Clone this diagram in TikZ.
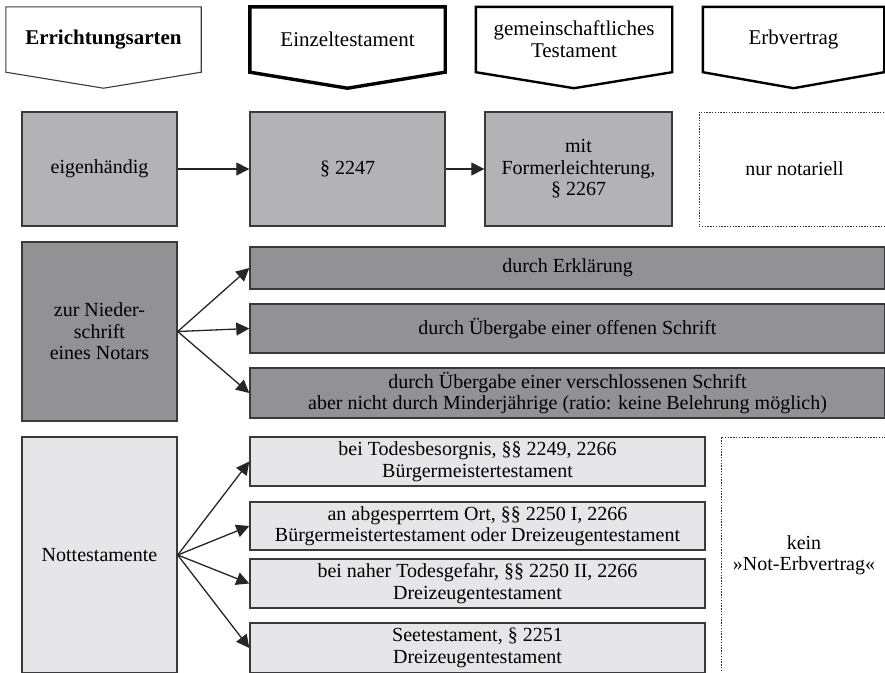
\documentclass[tikz,border=0pt]{standalone}
\usepackage{fontspec}
\setmainfont{Liberation Serif}
\usetikzlibrary{arrows.meta,positioning}
\definecolor{boxline}{HTML}{3A3A3C}
\definecolor{fill-hell}{HTML}{E6E6E8}
\definecolor{fill-mittel}{HTML}{B3B3B6}
\definecolor{fill-dunkel}{HTML}{929295}
\tikzset{
  erb-head/.style={minimum height=65pt, inner sep=0pt, align=center,
    font=\fontsize{21}{22}\selectfont},
  erb-box/.style={draw=boxline, line width=1.4pt, inner sep=0pt, align=center,
    font=\fontsize{20}{21.5}\selectfont},
  erb-dotted/.style={draw=black!80, line width=1pt, dash pattern=on 1.4pt off 1.4pt,
    inner sep=0pt, align=center, font=\fontsize{20}{21.5}\selectfont},
  erb-arrow/.style={-{Triangle[length=13pt,width=13pt]}, line width=1.3pt, draw=black!85}
}

\begin{document}
\begin{tikzpicture}[x=1pt, y=-1pt]
  \useasboundingbox (0,0) rectangle (885,672);
  \clip (0,0) rectangle (885,672);

  % Kopfzeile
  \node[erb-head, minimum width=195pt, font=\fontsize{21}{22}\selectfont\bfseries] (h-art) at (103.5,39.5) {Errichtungsarten};
  \node[erb-head, minimum width=195pt] (h-einzel) at (347.5,39.5) {Einzeltestament};
  \node[erb-head, minimum width=196pt] (h-gem) at (574,39.5) {gemeinschaftliches\\Testament};
  \node[erb-head, minimum width=181pt] (h-erb) at (793.5,39.5) {Erbvertrag};
  \draw[line width=1.1pt, boxline] (h-art.south west) -- (h-art.north west) -- (h-art.north east)
    -- (h-art.south east) -- ([yshift=-16pt]h-art.south) -- cycle;
  \draw[line width=3.4pt] (h-einzel.south west) -- (h-einzel.north west) -- (h-einzel.north east)
    -- (h-einzel.south east) -- ([yshift=-16pt]h-einzel.south) -- cycle;
  \draw[line width=2.4pt] (h-gem.south west) -- (h-gem.north west) -- (h-gem.north east)
    -- (h-gem.south east) -- ([yshift=-16pt]h-gem.south) -- cycle;
  \draw[line width=2.4pt] (h-erb.south west) -- (h-erb.north west) -- (h-erb.north east)
    -- (h-erb.south east) -- ([yshift=-16pt]h-erb.south) -- cycle;

  % eigenhaendig
  \node[erb-box, fill=fill-mittel, minimum width=155pt, minimum height=114pt] (eigen) at (99.5,169) {eigenhändig};
  \node[erb-box, fill=fill-mittel, minimum width=195pt, minimum height=114pt] (p2247) at (347.5,169) {§ 2247};
  \node[erb-box, fill=fill-mittel, minimum width=187pt, minimum height=114pt] (p2267) at (578.5,169) {mit\\Formerleichterung,\\§ 2267};
  \node[erb-dotted, minimum width=191pt, minimum height=114pt] (notariell) at (794.5,169) {nur notariell};
  \draw[erb-arrow] (eigen) -- (p2247);
  \draw[erb-arrow] (p2247) -- (p2267);

  % zur Niederschrift eines Notars
  \node[erb-box, fill=fill-dunkel, minimum width=155pt, minimum height=179pt] (nieder) at (99.5,331.5) {zur Nieder-\\schrift\\eines Notars};
  \node[erb-box, fill=fill-dunkel, minimum width=635pt, minimum height=42pt] (erkl) at (567.5,268) {durch Erklärung};
  \node[erb-box, fill=fill-dunkel, minimum width=635pt, minimum height=49pt] (offen) at (567.5,328.5) {durch Übergabe einer offenen Schrift};
  \node[erb-box, fill=fill-dunkel, minimum width=635pt, minimum height=50pt] (versch) at (567.5,393)
    {durch Übergabe einer verschlossenen Schrift\\aber nicht durch Minderjährige (ratio: keine Belehrung möglich)};
  \foreach \ziel in {erkl,offen,versch}
    \draw[erb-arrow] (nieder.east) -- (\ziel.west);

  % Nottestamente
  \node[erb-box, fill=fill-hell, minimum width=155pt, minimum height=236pt] (not) at (99.5,555) {Nottestamente};
  \node[erb-box, fill=fill-hell, minimum width=455pt, minimum height=49pt] (todes) at (477.5,461.5)
    {bei Todesbesorgnis, §§ 2249, 2266\\Bürgermeistertestament};
  \node[erb-box, fill=fill-hell, minimum width=455pt, minimum height=48pt] (abgesperrt) at (477.5,526)
    {an abgesperrtem Ort, §§ 2250 I, 2266\\Bürgermeistertestament oder Dreizeugentestament};
  \node[erb-box, fill=fill-hell, minimum width=455pt, minimum height=49pt] (gefahr) at (477.5,583.5)
    {bei naher Todesgefahr, §§ 2250 II, 2266\\Dreizeugentestament};
  \node[erb-box, fill=fill-hell, minimum width=455pt, minimum height=50pt] (see) at (477.5,648)
    {Seetestament, § 2251\\Dreizeugentestament};
  \node[erb-dotted, minimum width=166pt, minimum height=236pt] (noterb) at (804,555) {kein\\»Not-Erbvertrag«};
  \foreach \ziel in {todes,abgesperrt,gefahr,see}
    \draw[erb-arrow] (not.east) -- (\ziel.west);
\end{tikzpicture}
\end{document}
